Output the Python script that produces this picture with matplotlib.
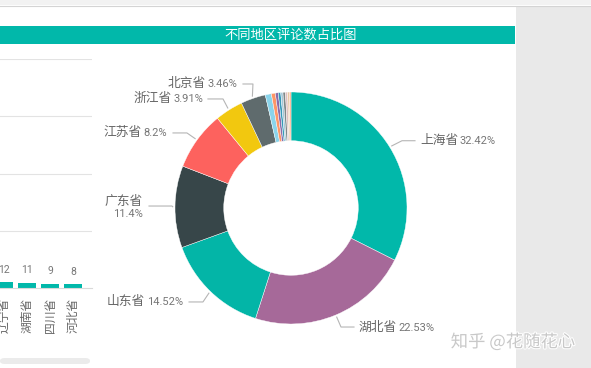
import matplotlib
matplotlib.use("Agg")
import numpy as np
import matplotlib.pyplot as plt
from matplotlib.patches import Rectangle, FancyBboxPatch
import matplotlib.patheffects as pe

plt.rcParams['font.family'] = ['Noto Sans CJK SC', 'DejaVu Sans']

# donut: share of comments per region (%)
provinces = ['上海省', '湖北省', '山东省', '广东省', '江苏省', '浙江省', '北京省',
             '辽宁省', '湖南省', '四川省', '河北省', '天津省', '福建省', '河南省',
             '安徽省', '陕西省']
shares = [32.42, 22.53, 14.52, 11.4, 8.2, 3.91, 3.46,
          0.85, 0.55, 0.4, 0.35, 0.3, 0.35, 0.3, 0.25, 0.21]
slice_colors = ['#01B8AA', '#A66999', '#03B5A7', '#374649', '#FD625E', '#F2C80F',
                '#5F6B6D', '#8AD4EB', '#FE9666', '#8C6BA8', '#3599B8', '#A4C8D8',
                '#7F898A', '#DFBFBF', '#E8C9A0', '#FDAB89']

# bar chart tail (left panel, cut off)
bar_cats = ['辽宁省', '湖南省', '四川省', '河北省']
bar_vals = [12, 11, 9, 8]

W, H = 591, 368
fig = plt.figure(figsize=(W / 100, H / 100), dpi=100)
fig.patch.set_facecolor('white')


def px(x0, y0, w, h):
    # pixel box (top-left origin) -> figure fraction
    return [x0 / W, (H - y0 - h) / H, w / W, h / H]


# page chrome
fig.add_artist(Rectangle((0, (H - 5) / H), 1, 5 / H, transform=fig.transFigure,
                         color='#f2f2f2', lw=0, zorder=0))
fig.add_artist(plt.Line2D([0, 1], [(H - 5.5) / H] * 2, transform=fig.transFigure,
                          color='#d4d4d4', lw=0.8))
fig.add_artist(Rectangle((516 / W, 0), (W - 516) / W, (H - 6) / H,
                         transform=fig.transFigure, color='#e9e9e9', lw=0, zorder=0))

# title banner
fig.add_artist(Rectangle((0, (H - 44) / H), 515 / W, 18 / H, transform=fig.transFigure,
                         color='#01B8AA', lw=0))
fig.text(291 / W, (H - 35) / H, '不同地区评论数占比图', color='white', fontsize=9.5,
         ha='center', va='center')

# ---- left bar chart (only the tail is visible) ----
axb = fig.add_axes(px(0, 59, 92, 229))
xpos = np.arange(len(bar_vals))
axb.bar(xpos, bar_vals, width=0.78, color='#01B8AA')
step = 120
axb.set_ylim(0, step * 4)
axb.set_yticks([step * i for i in range(1, 5)])
axb.set_xlim(-0.18, 3.82)
axb.yaxis.grid(True, color='#e3e3e3', lw=0.8)
axb.set_axisbelow(True)
for s in ['top', 'right', 'left']:
    axb.spines[s].set_visible(False)
axb.spines['bottom'].set_color('#d9d9d9')
axb.spines['bottom'].set_linewidth(0.8)
axb.tick_params(axis='y', length=0, labelleft=False)
axb.set_xticks(xpos)
axb.set_xticklabels(bar_cats, rotation=90, fontsize=8.5, color='#666666')
axb.tick_params(axis='x', length=0, pad=7)
for x, v in zip(xpos, bar_vals):
    axb.annotate(str(v), (x, v), xytext=(0, 9), textcoords='offset points',
                 ha='center', va='center', fontsize=7.5, color='#777777',
                 family='Roboto')

# scrollbar
fig.add_artist(FancyBboxPatch((0, (H - 364) / H), 90 / W, 6 / H,
                              boxstyle='round,pad=0,rounding_size=0.008',
                              transform=fig.transFigure, color='#ebebeb', lw=0))

# ---- donut ----
R = 116
ax = fig.add_axes(px(291 - R, 208 - R, 2 * R, 2 * R))
wedges, _ = ax.pie(shares, colors=slice_colors, startangle=90, counterclock=False,
                   radius=1, wedgeprops=dict(width=0.42, edgecolor='white', linewidth=0.3))
ax.set_xlim(-1, 1)
ax.set_ylim(-1, 1)
ax.set_aspect('equal')
ax.axis('off')

# leader line layout: elbow point, end x of horizontal part, label x, side
label_layout = {
    '上海省': ((0.957, 0.58), 1.069, 1.112, 'right'),
    '湖北省': ((0.431, -1.026), 0.543, 0.586, 'right'),
    '山东省': ((-0.759, -0.81), -0.879, -0.931, 'left'),
    '广东省': ((-1.026, 0.017), -1.224, -1.276, 'two'),
    '江苏省': ((-0.897, 0.647), -1.017, -1.069, 'left'),
    '浙江省': ((-0.586, 0.94), -0.716, -0.759, 'left'),
    '北京省': ((-0.328, 1.069), -0.414, -0.466, 'left'),
}

name_kw = dict(fontsize=9.2, color='#666666', clip_on=False)
pct_kw = dict(fontsize=8, color='#777777', family='Roboto', clip_on=False)

for w, name, val in zip(wedges, provinces, shares):
    if name not in label_layout:
        continue
    (ex, ey), hx, tx, side = label_layout[name]
    ang = np.deg2rad((w.theta1 + w.theta2) / 2)
    sx, sy = 1.02 * np.cos(ang), 1.02 * np.sin(ang)
    ax.plot([sx, ex, hx], [sy, ey, ey], color='#b5b5b5', lw=0.8, clip_on=False)
    pct = f'{val:g}%'
    if side == 'right':
        t = ax.text(tx, ey, name, ha='left', va='center', **name_kw)
        ax.annotate(pct, xy=(1, 0.5), xycoords=t, xytext=(1.2, -0.5),
                    textcoords='offset points', ha='left', va='center', **pct_kw)
    elif side == 'left':
        t = ax.text(tx, ey, pct, ha='right', va='center', **pct_kw)
        ax.annotate(name, xy=(0, 0.5), xycoords=t, xytext=(-1.2, 0.5),
                    textcoords='offset points', ha='right', va='center', **name_kw)
    else:
        ax.text(tx, ey + 0.043, name, ha='right', va='center', **name_kw)
        ax.text(tx, ey - 0.069, pct, ha='right', va='center', **pct_kw)

# watermark
fig.text(513 / W, (H - 342) / H, '知乎 @花随花心', fontsize=12.5, color='#c8c8c8',
         ha='center', va='center',
         path_effects=[pe.withStroke(linewidth=1.5, foreground='white')])

fig.savefig('out.png', dpi=100)
